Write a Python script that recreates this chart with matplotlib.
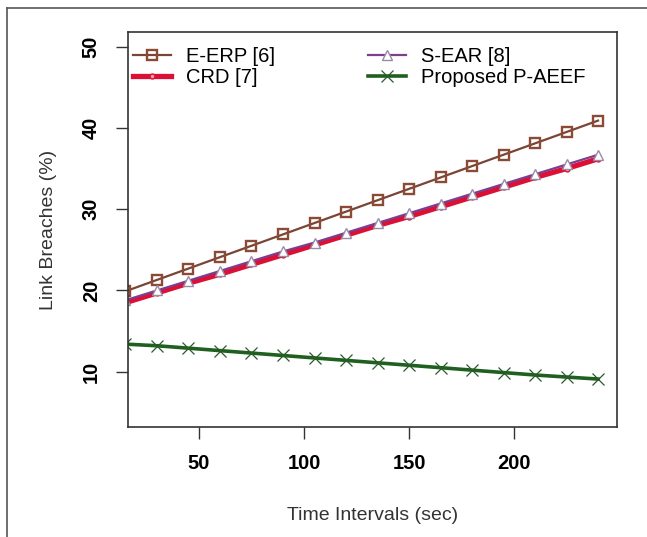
import matplotlib
matplotlib.use('Agg')
import matplotlib.pyplot as plt
from matplotlib.lines import Line2D

#Data
time_sec = [15, 30, 45, 60, 75, 90, 105, 120, 135, 150, 165, 180, 195, 210, 225, 240]
e_erp = [19.9, 21.3, 22.7, 24.1, 25.5, 26.9, 28.3, 29.7, 31.1, 32.5, 33.9, 35.3, 36.7, 38.1, 39.5, 40.9]
crd = [18.5, 19.7, 20.9, 22.0, 23.2, 24.4, 25.6, 26.8, 28.0, 29.1, 30.3, 31.5, 32.7, 33.9, 35.0, 36.2]
s_ear = [18.8, 20.0, 21.2, 22.4, 23.6, 24.8, 25.9, 27.1, 28.3, 29.5, 30.7, 31.9, 33.1, 34.3, 35.5, 36.7]
p_aeef = [13.4, 13.2, 12.9, 12.6, 12.3, 12.0, 11.7, 11.4, 11.1, 10.8, 10.5, 10.2, 9.9, 9.6, 9.35, 9.1]
x_ticks = [50, 100, 150, 200]
y_ticks = [10, 20, 30, 40, 50]

plt.rcParams['font.family'] = ['Liberation Sans', 'DejaVu Sans']

fig = plt.figure(figsize=(6.47, 5.37), dpi=100)
ax = fig.add_axes([0.1978, 0.2048, 0.7558, 0.7356])

#Outer frame (only top and left edges visible)
fig.add_artist(Line2D([7/647, 7/647], [0, 1 - 8/537], color='#555555', lw=1.2))
fig.add_artist(Line2D([7/647, 1], [1 - 8/537, 1 - 8/537], color='#555555', lw=1.2))

ax.plot(time_sec, e_erp, color='#7a4535', lw=1.6, marker='s', ms=7,
        mfc='none', mec='#8a4a35', mew=1.7, label='E-ERP [6]')
ax.plot(time_sec, crd, color='#dc1035', lw=3.8, marker='o', ms=3.5,
        mfc='#f4a0b0', mec='#dc1035', label='CRD [7]')
ax.plot(time_sec, s_ear, color='#7b3f8f', lw=1.6, marker='^', ms=7,
        mfc='white', mec='#9a8aa8', mew=1.0, label='S-EAR [8]')
ax.plot(time_sec, p_aeef, color='#1f5f1f', lw=2.6, marker='x', ms=9,
        mec='#2a5a2a', mew=0.9, label='Proposed P-AEEF')

ax.set_xlim(16.2, 249)
ax.set_ylim(3.2, 51.8)
ax.set_xticks(x_ticks)
ax.set_yticks(y_ticks)
ax.set_xticklabels([str(t) for t in x_ticks], fontsize=14.5, fontweight='bold')
ax.set_yticklabels([str(t) for t in y_ticks], fontsize=14.5, fontweight='bold',
                   rotation=90, va='center')
ax.tick_params(axis='both', length=8.6, width=1.0, color='#333333', pad=11)

for s in ax.spines.values():
    s.set_color('#333333')
    s.set_linewidth(1.2)

ax.set_xlabel('Time Intervals (sec)', fontsize=14, color='#333333', labelpad=24)
ax.set_ylabel('Link Breaches (%)', fontsize=14, color='#333333', labelpad=18)

#Legend, two columns, no frame
ax.legend(loc='upper left', bbox_to_anchor=(0.01, 0.962), ncol=2, frameon=False,
          fontsize=14.5, handlelength=1.9, handletextpad=0.75, columnspacing=4.6,
          labelspacing=0.1, borderpad=0, borderaxespad=0)

fig.savefig('out.png', dpi=100)
